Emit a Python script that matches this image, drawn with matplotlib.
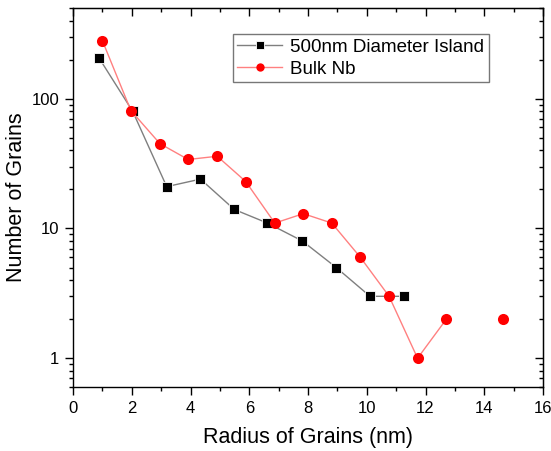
import numpy as np
import matplotlib
matplotlib.use("Agg")
import matplotlib.pyplot as plt
from matplotlib.ticker import LogLocator, NullFormatter, FixedLocator

plt.rcParams['font.family'] = ['Liberation Sans', 'DejaVu Sans']

# 500nm 岛状样品
island_x = [0.88, 2.03, 3.19, 4.34, 5.49, 6.62, 7.81, 8.96, 10.11, 11.27]
island_y = [207, 80, 21, 24, 14, 11, 8, 5, 3, 3]

# 体材料 Nb（13.7 处无数据，断线）
bulk_x = [1.0, 1.97, 2.96, 3.92, 4.91, 5.88, 6.87, 7.84, 8.81, 9.78, 10.76, 11.73, 12.71, 13.68, 14.65]
bulk_y = [280, 81, 45, 34, 36, 23, 11, 13, 11, 6, 3, 1, 2, np.nan, 2]

x_ticks = [0, 2, 4, 6, 8, 10, 12, 14, 16]
y_ticks = [1, 10, 100]
y_tick_labels = ['1', '10', '100']

fig = plt.figure(figsize=(5.51, 4.51), dpi=100)
ax = fig.add_axes([0.1325, 0.1419, 0.853, 0.8404])

ax.plot(island_x, island_y, color='#7f7f7f', lw=1.0, marker='s', ms=7.5,
        mfc='black', mec='white', mew=0.6, label='500nm Diameter Island')
ax.plot(bulk_x, bulk_y, color='#ff8080', lw=1.0, marker='o', ms=8,
        mfc='red', mec='red', mew=0, label='Bulk Nb')

ax.set_yscale('log')
ax.set_xlim(0, 16)
ax.set_ylim(0.6, 500)
ax.set_xticks(x_ticks)
ax.xaxis.set_minor_locator(FixedLocator(np.arange(1, 16, 2)))
ax.yaxis.set_major_locator(FixedLocator(y_ticks))
ax.set_yticklabels(y_tick_labels)
ax.yaxis.set_minor_locator(LogLocator(base=10, subs=np.arange(2, 10)))
ax.yaxis.set_minor_formatter(NullFormatter())

ax.tick_params(axis='both', which='major', direction='out', length=6, width=1,
               labelsize=12, top=False, right=False, pad=4)
ax.tick_params(axis='both', which='minor', direction='out', length=3, width=1)
for s in ax.spines.values():
    s.set_linewidth(1.0)

# 顶部和右侧的内向刻度
axt = ax.secondary_xaxis('top')
axt.set_xticks(x_ticks)
axt.xaxis.set_minor_locator(FixedLocator(np.arange(1, 16, 2)))
axt.tick_params(which='major', direction='in', length=6, width=1, labeltop=False)
axt.tick_params(which='minor', direction='in', length=3, width=1)
axr = ax.secondary_yaxis('right')
axr.set_yscale('log')
axr.yaxis.set_major_locator(FixedLocator(y_ticks))
axr.yaxis.set_minor_locator(LogLocator(base=10, subs=np.arange(2, 10)))
axr.yaxis.set_minor_formatter(NullFormatter())
axr.tick_params(which='major', direction='in', length=6, width=1, labelright=False)
axr.tick_params(which='minor', direction='in', length=3, width=1)

ax.set_xlabel('Radius of Grains (nm)', fontsize=15.5, labelpad=8)
ax.set_ylabel('Number of Grains', fontsize=15.5)
ax.yaxis.set_label_coords(-0.098, 0.5)

leg = ax.legend(loc='upper left', bbox_to_anchor=(0.340, 0.931), borderaxespad=0,
                fontsize=13.5, frameon=True, fancybox=False, edgecolor='#555555',
                markerscale=0.75, handlelength=2.4, borderpad=0.25,
                labelspacing=0.25, handletextpad=0.4)
leg.get_frame().set_linewidth(1.0)

fig.savefig('out.png', dpi=100)
